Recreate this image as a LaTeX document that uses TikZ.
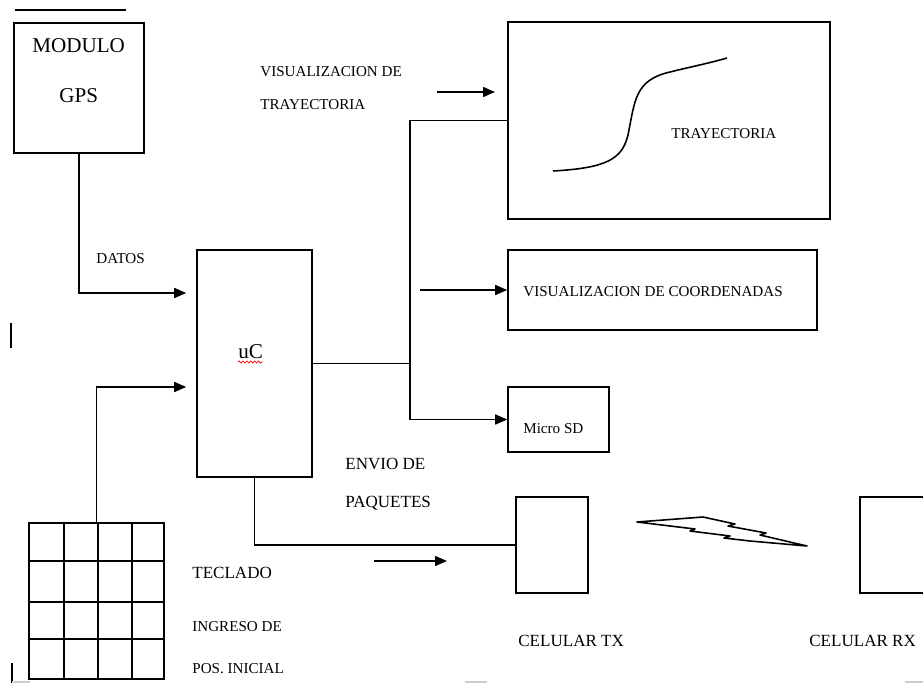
\documentclass[tikz,border=0pt]{standalone}
\usepackage{fontspec}
\setmainfont{Liberation Serif}
\usepackage{tikz}
\usetikzlibrary{positioning, arrows.meta, decorations.pathmorphing}

\tikzset{
  box/.style={draw, line width=0.9pt, inner sep=0pt},
  wire/.style={line width=0.9pt},
  arr/.style={wire, -{Triangle[length=2.4mm,width=2mm]}},
  lbl/.style={inner sep=0pt, anchor=base west},
  tsmall/.style={lbl, font=\fontsize{8.6}{10}\selectfont},
  tmid/.style={lbl, font=\fontsize{9.7}{11}\selectfont},
  tbig/.style={lbl, font=\fontsize{12}{14}\selectfont},
}

\begin{document}
\begin{tikzpicture}[x=0.02cm, y=-0.02cm]
  \useasboundingbox (0,0) rectangle (923,683);

  % bloques
  \node[box, minimum width=2.6cm, minimum height=2.6cm] (gps) at (79,88) {};
  \node[box, minimum width=2.3cm, minimum height=4.54cm] (uc) at (254.5,363.5) {};
  \node[box, minimum width=6.44cm, minimum height=3.94cm] (tray) at (669,120.5) {};
  \node[box, minimum width=6.18cm, minimum height=1.6cm] (coord) at (662.5,290) {};
  \node[box, minimum width=2.02cm, minimum height=1.3cm] (sd) at (558.5,419.5) {};
  \node[box, minimum width=1.44cm, minimum height=1.92cm] (tx) at (552,545) {};
  \node[box, minimum width=1.5cm, minimum height=1.92cm] (rx) at (897.5,545) {};
  \node[box, minimum width=2.7cm, minimum height=3.12cm] (keypad) at (96.5,601) {};
  \foreach \x in {64,98,132}
    \draw[wire] (\x,523) -- (\x,679);
  \foreach \y in {561,602,639}
    \draw[wire] (29,\y) -- (164,\y);

  % textos
  \node[tbig] (modulo) at (32,52) {MODULO};
  \node[tbig] (gpstxt) at (59,102) {GPS};
  \node[tbig] (uctxt) at (238,358) {uC};
  \draw[red, line width=0.4pt, decorate,
        decoration={snake, amplitude=0.6pt, segment length=2.2pt}]
    (238,362) -- (263,362);
  \node[tsmall] (datos) at (96,263) {DATOS};
  \node[tsmall] (vis1) at (260,76) {VISUALIZACION DE};
  \node[tsmall] (vis2) at (260,109) {TRAYECTORIA};
  \node[tsmall] (traytxt) at (671,138) {TRAYECTORIA};
  \node[tsmall] (coordtxt) at (523,296) {VISUALIZACION DE COORDENADAS};
  \node[tsmall] (sdtxt) at (523,433) {Micro SD};
  \node[tmid] (teclado) at (192,578) {TECLADO};
  \node[tsmall] (ingreso) at (192,631) {INGRESO DE};
  \node[tsmall] (posini) at (192,673) {POS. INICIAL};
  \node[tmid] (envio) at (345,469) {ENVIO DE};
  \node[tmid] (paquetes) at (345,507) {PAQUETES};
  \node[tmid] (celtx) at (518,646) {CELULAR TX};
  \node[tmid] (celrx) at (809,646) {CELULAR RX};

  % conexiones
  \draw[arr, shorten >=0.2cm] (gps.south) |- (uc.west |- 0,293);
  \draw[arr, shorten >=0.2cm] (keypad.north) |- (uc.west |- 0,387);
  \coordinate (bus) at (410,363.5);
  \draw[wire] (uc.east) -- (bus);
  \draw[wire] (bus) |- (tray.west);
  \draw[arr] (bus) |- (sd.west);
  \coordinate (c1) at (420,290);
  \draw[arr] (c1) -- (coord.west);
  \draw[wire] (uc.south) |- (tx.west);
  \coordinate (f1) at (437,92);
  \coordinate (f2) at (495,92);
  \draw[arr] (f1) -- (f2);
  \coordinate (f3) at (374,561);
  \coordinate (f4) at (447,561);
  \draw[arr] (f3) -- (f4);

  % curva de trayectoria
  \draw[wire] (553,171) .. controls (605,168) and (622,160) .. (628,135)
    .. controls (635,100) and (635,80) .. (670,72)
    .. controls (690,67) and (710,63) .. (727,58);

  % rayo
  \draw[wire, line join=round] (637,522) -- (703,517) -- (735,524) -- (728,526)
    -- (766,533) -- (760,535) -- (807,546) -- (750,541) -- (724,538)
    -- (730,536) -- (690,531) -- (695,529) -- cycle;

  % marcas sueltas
  \draw[wire] (15,10) -- (126,10);
  \draw[wire] (11,323) -- (11,348);
  \draw[wire] (12,663) -- (12,683);
  \draw[gray!40, line width=1pt] (12,682) -- (30,682);
  \draw[gray!40, line width=1pt] (465,682) -- (487,682);
  \draw[gray!40, line width=1pt] (905,682) -- (923,682);
\end{tikzpicture}
\end{document}
